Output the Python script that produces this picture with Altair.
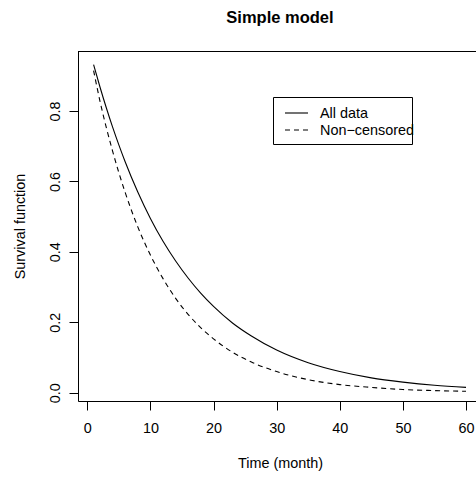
import altair as alt
import pandas as pd

# ---- data ----
months = [1, 2, 3, 4, 5, 6, 8, 10, 12, 14, 16, 18, 20, 23, 26, 30, 35, 40, 45, 50, 55, 60]
all_data = [0.932, 0.869, 0.810, 0.755, 0.704, 0.656, 0.570, 0.495, 0.430, 0.374, 0.325,
            0.282, 0.245, 0.198, 0.161, 0.121, 0.085, 0.060, 0.042, 0.030, 0.021, 0.015]
non_censored = [0.915, 0.829, 0.754, 0.687, 0.625, 0.569, 0.471, 0.391, 0.324, 0.268, 0.222,
                0.184, 0.153, 0.115, 0.087, 0.060, 0.037, 0.023, 0.015, 0.009, 0.006, 0.004]
series_names = ["All data", "Non\u2212censored"]
x_ticks = [0, 10, 20, 30, 40, 50, 60]
y_ticks = [0.0, 0.2, 0.4, 0.6, 0.8]
title_text = "Simple model"

FONT = "Liberation Sans"
FS = 14.4
W, H = 398, 350

df_all = pd.DataFrame({"t": months, "s": all_data})
df_nc = pd.DataFrame({"t": months, "s": non_censored})

xscale = alt.Scale(domain=[-1.47, 61.58], nice=False, zero=False)
yscale = alt.Scale(domain=[-0.0236, 0.9705], nice=False, zero=False)

xaxis = alt.Axis(values=x_ticks, tickSize=9, tickColor="black", tickWidth=1,
                 domainColor="black", domainWidth=1, grid=False,
                 labelFont=FONT, labelFontSize=FS, labelColor="black",
                 labelPadding=22.5, labelBaseline="alphabetic", labelFlush=False,
                 labelOverlap=False, format="d",
                 title="Time (month)", titleFont=FONT, titleFontSize=FS,
                 titleFontWeight="normal", titleColor="black",
                 titleX=202, titleY=66, titleAlign="center", titleBaseline="alphabetic")
yaxis = alt.Axis(values=y_ticks, tickSize=9, tickColor="black", tickWidth=1,
                 domainColor="black", domainWidth=1, grid=False,
                 labelFont=FONT, labelFontSize=FS, labelColor="black",
                 labelAngle=270, labelAlign="center", labelBaseline="alphabetic",
                 labelPadding=10, labelFlush=False, labelOverlap=False, format=".1f",
                 title="Survival function", titleFont=FONT, titleFontSize=FS,
                 titleFontWeight="normal", titleColor="black", titleAngle=270,
                 titleX=-53.5, titleY=175, titleAlign="center", titleBaseline="alphabetic")

line_all = alt.Chart(df_all).mark_line(color="black", strokeWidth=1.1, interpolate="monotone").encode(
    x=alt.X("t:Q", scale=xscale, axis=xaxis),
    y=alt.Y("s:Q", scale=yscale, axis=yaxis),
)
line_nc = alt.Chart(df_nc).mark_line(color="black", strokeWidth=1.1, strokeDash=[5, 4],
                                     interpolate="monotone").encode(
    x=alt.X("t:Q", scale=xscale),
    y=alt.Y("s:Q", scale=yscale),
)

# top border of the plot box
top_rule = alt.Chart(pd.DataFrame({"a": [0]})).mark_rule(color="black", strokeWidth=1).encode(
    x=alt.value(0), x2=alt.value(W), y=alt.value(0.5)
)

# legend box
leg_df = pd.DataFrame({"a": [0]})
leg_box = alt.Chart(leg_df).mark_rect(fill="white", stroke="black", strokeWidth=1).encode(
    x=alt.value(195.5), x2=alt.value(334.5), y=alt.value(46.5), y2=alt.value(93.5)
)
leg_line1 = alt.Chart(leg_df).mark_rule(color="black", strokeWidth=1.1).encode(
    x=alt.value(207), x2=alt.value(230), y=alt.value(62)
)
leg_line2 = alt.Chart(leg_df).mark_rule(color="black", strokeWidth=1.1, strokeDash=[5, 4]).encode(
    x=alt.value(207), x2=alt.value(230), y=alt.value(79)
)
leg_txt1 = alt.Chart(pd.DataFrame({"label": [series_names[0]]})).mark_text(
    font=FONT, fontSize=FS, color="black", align="left", baseline="alphabetic").encode(
    x=alt.value(242), y=alt.value(66.7), text="label:N"
)
leg_txt2 = alt.Chart(pd.DataFrame({"label": [series_names[1]]})).mark_text(
    font=FONT, fontSize=FS, color="black", align="left", baseline="alphabetic").encode(
    x=alt.value(242), y=alt.value(84), text="label:N"
)

title = alt.Chart(pd.DataFrame({"label": [title_text]})).mark_text(
    font=FONT, fontSize=16.5, fontWeight="bold", color="black", align="center",
    baseline="alphabetic").encode(
    x=alt.value(202), y=alt.value(-28.5), text="label:N"
)

chart = alt.layer(
    line_all, line_nc, top_rule, leg_box, leg_line1, leg_line2, leg_txt1, leg_txt2, title
).properties(
    width=W, height=H,
    autosize=alt.AutoSizeParams(type="none"),
    padding={"left": 78, "top": 51, "right": 0, "bottom": 77},
).configure_view(stroke=None).configure(background="white")

chart.save("out.html", embed_options={"renderer": "svg", "actions": False})
